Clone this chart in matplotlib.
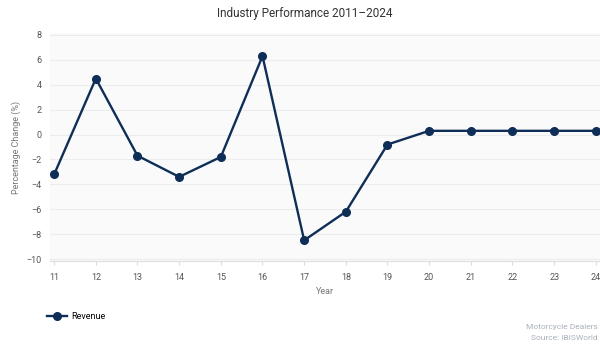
import matplotlib
matplotlib.use('Agg')
import matplotlib.pyplot as plt

years = [11, 12, 13, 14, 15, 16, 17, 18, 19, 20, 21, 22, 23, 24]
revenue = [-3.2, 4.5, -1.7, -3.4, -1.8, 6.3, -8.5, -6.2, -0.8, 0.3, 0.3, 0.3, 0.3, 0.3]
y_ticks = [-10, -8, -6, -4, -2, 0, 2, 4, 6, 8]

NAVY = '#0f2e57'
GREY = '#777777'

plt.rcParams['font.family'] = ['Roboto', 'DejaVu Sans']

fig = plt.figure(figsize=(6.0, 3.45), dpi=100)
ax = fig.add_axes([50 / 600, 1 - 261 / 345, 1 - 50 / 600, 228 / 345])
ax.set_facecolor('#fafafa')

ax.plot(years, revenue, color=NAVY, linewidth=1.7, marker='o', markersize=5.5,
        label='Revenue', zorder=3, clip_on=False)

ax.set_xlim(10.9, 24.1)
ax.set_ylim(-10.16, 8.16)
ax.set_xticks(years)
ax.set_yticks(y_ticks)
ax.tick_params(axis='both', labelsize=6.5, colors='#555555', length=0, pad=6)
ax.tick_params(axis='x', length=3, color='#dddddd')
ax.grid(axis='y', color='#ececec', linewidth=0.8)
ax.set_axisbelow(True)
for s in ['top', 'right', 'left']:
    ax.spines[s].set_visible(False)
ax.spines['bottom'].set_color('#dddddd')

ax.set_ylabel('Percentage Change (%)', fontsize=6.5, color=GREY, labelpad=4)
ax.set_xlabel('Year', fontsize=6.5, color=GREY, labelpad=3)
fig.text(0.508, 1 - 14 / 345, 'Industry Performance 2011\u20132024', ha='center',
         va='center', fontsize=8.5, color='#333333')

ax.legend(loc='upper left', bbox_to_anchor=(-0.02, -0.19), frameon=False,
          fontsize=6.5, handlelength=2.2, handletextpad=0.5)

# source note sits at the right edge (cut off in the original, kept whole here)
fig.text(598 / 600, 1 - 327 / 345, 'Motorcycle Dealers', fontsize=6,
         color='#aab0bb', va='center', ha='right')
fig.text(598 / 600, 1 - 338 / 345, 'Source: IBISWorld', fontsize=6,
         color='#aab0bb', va='center', ha='right')

fig.savefig('out.png', dpi=100)
